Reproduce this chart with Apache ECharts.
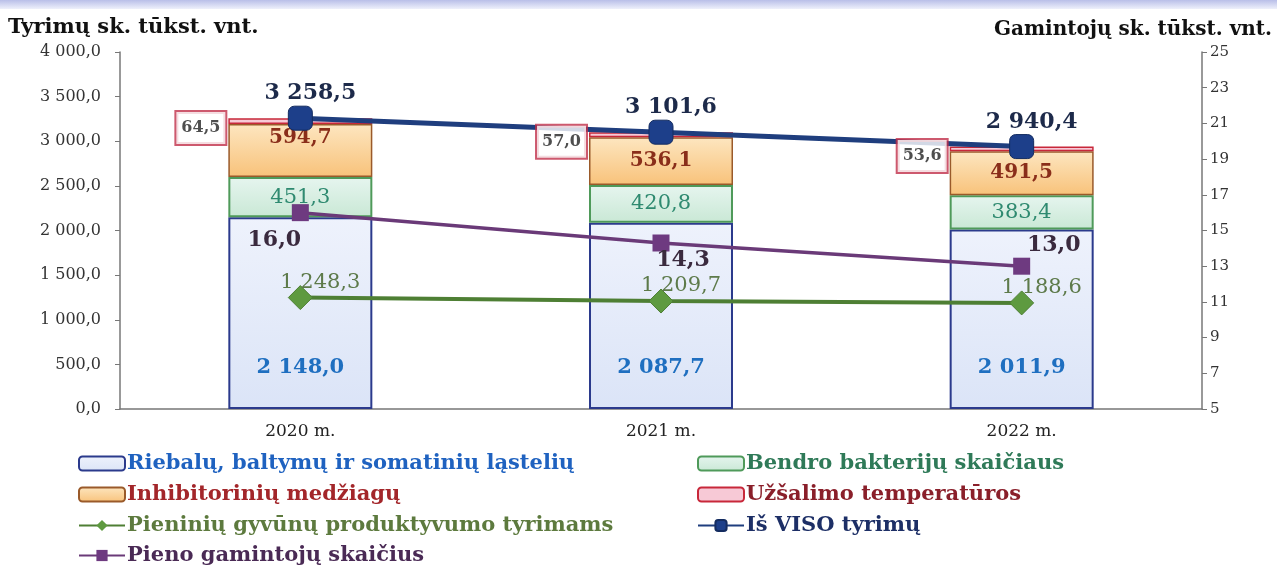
<!DOCTYPE html>
<html><head><meta charset="utf-8">
<script src="https://cdn.jsdelivr.net/npm/echarts@6/dist/echarts.min.js"></script>
<style>html,body{margin:0;padding:0;background:#fff}#c{width:1277px;height:566px}</style>
</head><body><div id="c"></div>
<script>
const categories = ['2020 m.', '2021 m.', '2022 m.'];
const riebalu = [2148.0, 2087.7, 2011.9];
const bendro = [451.3, 420.8, 383.4];
const inhibitoriniu = [594.7, 536.1, 491.5];
const uzsalimo = [64.5, 57.0, 53.6];
const pieniniu = [1248.3, 1209.7, 1188.6];
const isViso = [3258.5, 3101.6, 2940.4];
const gamintoju = [16.0, 14.3, 13.0];
const leftTicks = [0, 500, 1000, 1500, 2000, 2500, 3000, 3500, 4000];
const rightTicks = [5, 7, 9, 11, 13, 15, 17, 19, 21, 23, 25];

const names = {
  rieb: 'Riebalų, baltymų ir somatinių ląstelių',
  bend: 'Bendro bakterijų skaičiaus',
  inhi: 'Inhibitorinių medžiagų',
  uzsa: 'Užšalimo temperatūros',
  pien: 'Pieninių gyvūnų produktyvumo tyrimams',
  viso: 'Iš VISO tyrimų',
  gam: 'Pieno gamintojų skaičius'
};

function fmt(v, dec) {
  const s = Number(v).toFixed(dec === undefined ? 1 : dec);
  const parts = s.split('.');
  const ip = parts[0].replace(/\B(?=(\d{3})+(?!\d))/g, ' ');
  return parts.length > 1 ? ip + ',' + parts[1] : ip;
}
const WIDE = '"DejaVu Serif","Liberation Serif",serif';

const gamLabelPos = [
  {position: 'bottom', offset: [-26, 3]},
  {position: 'bottom', offset: [22, -7]},
  {position: 'top', offset: [32, 4]}
];
const inhiLabelPos = [
  {offset: [0, -13]}, {offset: [0, 0]}, {offset: [0, 0]}
];

const legendBase = {orient: 'vertical', itemGap: 10, itemWidth: 46, itemHeight: 14,
  textStyle: {fontFamily: WIDE, fontSize: 21, fontWeight: 'bold', padding: [0, 0, 0, -3]}};

const chart = echarts.init(document.getElementById('c'));
chart.setOption({
  animation: false,
  textStyle: {fontFamily: WIDE},
  grid: {left: 120, right: 75, top: 52, bottom: 157},
  graphic: [
    {type: 'rect', left: 0, top: 0, shape: {width: 1277, height: 9},
     style: {fill: new echarts.graphic.LinearGradient(0, 0, 0, 1, [{offset: 0, color: '#b9bfe8'}, {offset: 1, color: '#eef0fb'}])}},
    {type: 'text', left: 8, top: 17, style: {text: 'Tyrimų sk. tūkst. vnt.', font: 'bold 21px ' + WIDE, fill: '#111'}},
    {type: 'text', right: 5, top: 20, style: {text: 'Gamintojų sk. tūkst. vnt.', font: 'bold 20px ' + WIDE, fill: '#111'}}
  ],
  legend: [
    Object.assign({}, legendBase, {left: 73, top: 448, data: [
       {name: names.rieb, textStyle: {color: '#1f62c0'}},
       {name: names.inhi, textStyle: {color: '#a3262a'}},
       {name: names.pien, textStyle: {color: '#5d7a3e'}}
     ]}),
    Object.assign({}, legendBase, {left: 73, top: 540, data: [
       {name: names.gam, textStyle: {color: '#4a2a55'}}
     ]}),
    Object.assign({}, legendBase, {left: 692, top: 448, data: [
       {name: names.bend, textStyle: {color: '#2f7a58'}},
       {name: names.uzsa, textStyle: {color: '#8a1f2a'}},
       {name: names.viso, textStyle: {color: '#1d2f66'}}
     ]})
  ],
  xAxis: {
    type: 'category', data: categories,
    axisLine: {lineStyle: {color: '#777', width: 1.5}},
    axisTick: {show: false},
    axisLabel: {color: '#222', fontSize: 17, fontFamily: WIDE, margin: 14}
  },
  yAxis: [
    {type: 'value', min: leftTicks[0], max: leftTicks[leftTicks.length - 1], interval: 500,
     axisLine: {show: true, lineStyle: {color: '#777', width: 1.5}},
     axisTick: {show: true, length: 5, lineStyle: {color: '#777'}},
     splitLine: {show: false},
     axisLabel: {color: '#333', fontSize: 16, fontFamily: WIDE, margin: 19, formatter: v => fmt(v, 1)}},
    {type: 'value', min: rightTicks[0], max: rightTicks[rightTicks.length - 1], interval: 2,
     position: 'right',
     axisLine: {show: true, lineStyle: {color: '#777', width: 1.5}},
     axisTick: {show: true, length: 5, lineStyle: {color: '#777'}},
     splitLine: {show: false},
     axisLabel: {color: '#333', fontSize: 15, fontFamily: WIDE, margin: 8, formatter: v => String(v)}}
  ],
  series: [
    {name: names.rieb, type: 'bar', stack: 't', barWidth: 144, data: riebalu, z: 2,
     itemStyle: {color: new echarts.graphic.LinearGradient(0, 0, 0, 1, [{offset: 0, color: '#eef2fc'}, {offset: 1, color: '#dbe4f7'}]), borderColor: '#2b3a8c', borderWidth: 2},
     label: {show: true, position: 'insideBottom', distance: 31, color: '#1f6fc0', fontSize: 21, fontWeight: 'bold', fontFamily: WIDE, formatter: p => fmt(p.value)}},
    {name: names.bend, type: 'bar', stack: 't', data: bendro, z: 2,
     itemStyle: {color: new echarts.graphic.LinearGradient(0, 0, 0, 1, [{offset: 0, color: '#e6f5ef'}, {offset: 1, color: '#c9e8d5'}]), borderColor: '#4f9a5a', borderWidth: 2},
     label: {show: true, position: 'inside', color: '#2f8a70', fontSize: 21, fontFamily: WIDE, formatter: p => fmt(p.value)}},
    {name: names.inhi, type: 'bar', stack: 't', z: 2,
     data: inhibitoriniu.map((v, i) => ({value: v, label: inhiLabelPos[i]})),
     itemStyle: {color: new echarts.graphic.LinearGradient(0, 0, 0, 1, [{offset: 0, color: '#fde6c0'}, {offset: 1, color: '#f8c27a'}]), borderColor: '#9a5a2a', borderWidth: 1.5},
     label: {show: true, position: 'inside', color: '#8a2e1a', fontSize: 20, fontWeight: 'bold', fontFamily: WIDE, formatter: p => fmt(p.value)}},
    {name: names.uzsa, type: 'bar', stack: 't', data: uzsalimo, z: 2,
     itemStyle: {color: '#f7c9d6', borderColor: '#c8283a', borderWidth: 1.5}},
    {name: names.pien, type: 'line', data: pieniniu, z: 5,
     lineStyle: {color: '#4e7f34', width: 4}, itemStyle: {color: '#5e9a40', borderColor: '#4e7f34'},
     symbol: 'diamond', symbolSize: 24,
     label: {show: true, position: 'top', distance: 0, offset: [20, 8], color: '#5d7a4a', fontSize: 21, fontFamily: WIDE, formatter: p => fmt(p.value)}},
    {name: names.viso, type: 'line', data: isViso, z: 6,
     lineStyle: {color: '#1f3e7e', width: 5}, itemStyle: {color: '#1d3f8a', borderColor: '#142c60', borderWidth: 1},
     symbol: 'roundRect', symbolSize: 24,
     label: {show: true, position: 'top', distance: 1, offset: [10, 0], color: '#1d2a4a', fontSize: 22, fontWeight: 'bold', fontFamily: WIDE, formatter: p => fmt(p.value)}},
    {name: names.gam, type: 'line', yAxisIndex: 1, z: 5,
     data: gamintoju.map((v, i) => ({value: v, label: gamLabelPos[i]})),
     lineStyle: {color: '#6a3a78', width: 3.5}, itemStyle: {color: '#6e3a80'},
     symbol: 'rect', symbolSize: 17,
     label: {show: true, color: '#3a2a3e', fontSize: 22, fontWeight: 'bold', fontFamily: WIDE, formatter: p => fmt(p.value)}},
    {type: 'scatter', z: 10, silent: true, symbolSize: 0,
     data: categories.map((c, i) => [i, isViso[i] - uzsalimo[i] / 2, uzsalimo[i]]),
     label: {show: true, position: 'left', distance: 75, offset: [0, 7], color: '#222', fontSize: 16, fontWeight: 'bold', fontFamily: WIDE,
       backgroundColor: '#fff', borderColor: '#c0304a', borderWidth: 2, padding: [9, 5, 7, 5],
       formatter: p => fmt(p.value[2])}}
  ]
});
</script></body></html>
